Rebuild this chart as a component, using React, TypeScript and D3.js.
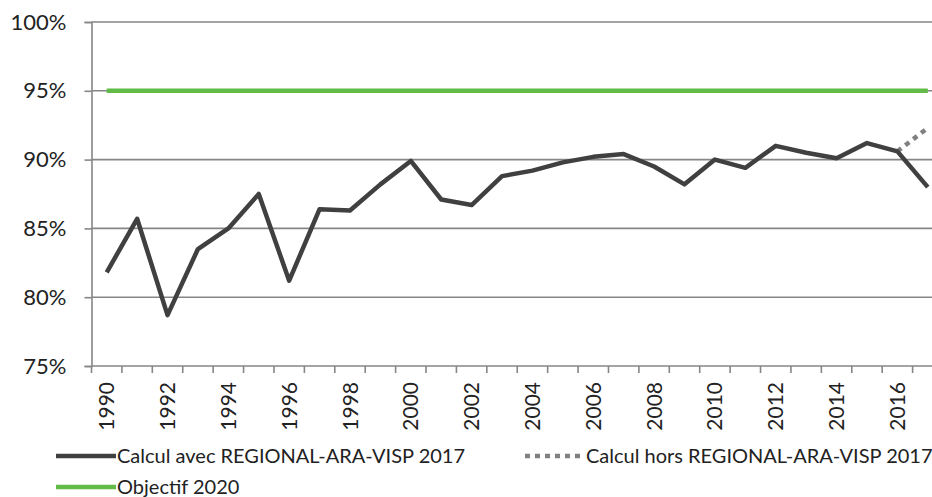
import React, { useEffect, useRef } from 'react';
import * as d3 from 'd3';

// years on the x axis
const years = d3.range(1990, 2018);

// share (%)
const avecValues = [
  81.8, 85.7, 78.7, 83.5, 85.0, 87.5, 81.2, 86.4, 86.3, 88.2,
  89.9, 87.1, 86.7, 88.8, 89.2, 89.8, 90.2, 90.4, 89.5, 88.2,
  90.0, 89.4, 91.0, 90.5, 90.1, 91.2, 90.6, 88.0,
];
const horsYears = [2016, 2017];
const horsValues = [90.6, 92.3];
const objectifValue = 95;

const yTicks = [75, 80, 85, 90, 95, 100];
const labelYears = years.filter((y) => y % 2 === 0);

const legendItems = [
  { label: 'Calcul avec REGIONAL-ARA-VISP 2017', color: '#404040', dash: null },
  { label: 'Calcul hors REGIONAL-ARA-VISP 2017', color: '#808080', dash: '5,5' },
  { label: 'Objectif 2020', color: '#62BB46', dash: null },
];

const FONT = 'Lato, "Open Sans", sans-serif';

export default function App() {
  const svgRef = useRef<SVGSVGElement>(null);

  useEffect(() => {
    const svg = d3.select(svgRef.current);

    const x = d3.scaleBand<number>().domain(years).range([91.5, 943]).padding(0);
    const y = d3.scaleLinear().domain([75, 100]).range([366, 22]);
    const cx = (d: number) => (x(d) as number) + x.bandwidth() / 2;

    const chart = svg.append('g');

    // gridlines
    chart.append('g')
      .selectAll('line')
      .data(yTicks.filter((t) => t > 75))
      .enter()
      .append('line')
      .attr('x1', 91.5)
      .attr('x2', 943)
      .attr('y1', (d) => y(d))
      .attr('y2', (d) => y(d))
      .attr('stroke', '#868686')
      .attr('stroke-width', 1.6);

    // y axis
    const yAxis = d3.axisLeft(y)
      .tickValues(yTicks)
      .tickFormat((d) => `${d}%`)
      .tickSize(7)
      .tickPadding(18);
    const yg = chart.append('g').attr('transform', 'translate(91.5,0)').call(yAxis);
    yg.selectAll('path, line').attr('stroke', '#868686').attr('stroke-width', 1.6);
    yg.selectAll('text')
      .attr('font-family', FONT)
      .attr('font-size', 22)
      .attr('fill', '#222');

    // x axis line + ticks at category boundaries
    const xg = chart.append('g');
    xg.append('line')
      .attr('x1', 91.5).attr('x2', 943)
      .attr('y1', 366).attr('y2', 366)
      .attr('stroke', '#868686').attr('stroke-width', 1.6);
    xg.selectAll('line.tick')
      .data(years)
      .enter()
      .append('line')
      .attr('class', 'tick')
      .attr('x1', (d) => x(d) as number)
      .attr('x2', (d) => x(d) as number)
      .attr('y1', 366)
      .attr('y2', 373)
      .attr('stroke', '#868686')
      .attr('stroke-width', 1.6);
    xg.selectAll('text')
      .data(labelYears)
      .enter()
      .append('text')
      .attr('transform', (d) => `translate(${cx(d)},382) rotate(-90)`)
      .attr('text-anchor', 'end')
      .attr('dy', '0.36em')
      .attr('font-family', FONT)
      .attr('font-size', 21)
      .attr('fill', '#222')
      .text((d) => d);

    // objectif line
    chart.append('line')
      .attr('x1', cx(years[0]))
      .attr('x2', cx(years[years.length - 1]))
      .attr('y1', y(objectifValue))
      .attr('y2', y(objectifValue))
      .attr('stroke', '#62BB46')
      .attr('stroke-width', 4.5);

    // hors series (dotted)
    const lineGen = d3.line<[number, number]>()
      .x((d) => cx(d[0]))
      .y((d) => y(d[1]));

    chart.append('path')
      .datum(horsYears.map((yr, i) => [yr, horsValues[i]] as [number, number]))
      .attr('d', lineGen)
      .attr('fill', 'none')
      .attr('stroke', '#808080')
      .attr('stroke-width', 4.5)
      .attr('stroke-dasharray', '5,5');

    // avec series
    chart.append('path')
      .datum(years.map((yr, i) => [yr, avecValues[i]] as [number, number]))
      .attr('d', lineGen)
      .attr('fill', 'none')
      .attr('stroke', '#404040')
      .attr('stroke-width', 4.5)
      .attr('stroke-linejoin', 'round');

    // legend
    const legendPos = [
      { x: 56, y: 456 },
      { x: 525, y: 456 },
      { x: 56, y: 487 },
    ];
    const legend = svg.append('g');
    legendItems.forEach((item, i) => {
      const p = legendPos[i];
      legend.append('line')
        .attr('x1', p.x).attr('x2', p.x + 60)
        .attr('y1', p.y).attr('y2', p.y)
        .attr('stroke', item.color)
        .attr('stroke-width', 4.5)
        .attr('stroke-dasharray', item.dash);
      legend.append('text')
        .attr('x', p.x + 61)
        .attr('y', p.y)
        .attr('dy', '0.36em')
        .attr('font-family', FONT)
        .attr('font-size', 20)
        .attr('fill', '#222')
        .text(item.label);
    });

    return () => {
      svg.selectAll('*').remove();
    };
  }, []);

  return (
    <svg
      ref={svgRef}
      width={932}
      height={497}
      style={{ position: 'absolute', left: 0, top: 0, background: '#fff' }}
    />
  );
}
